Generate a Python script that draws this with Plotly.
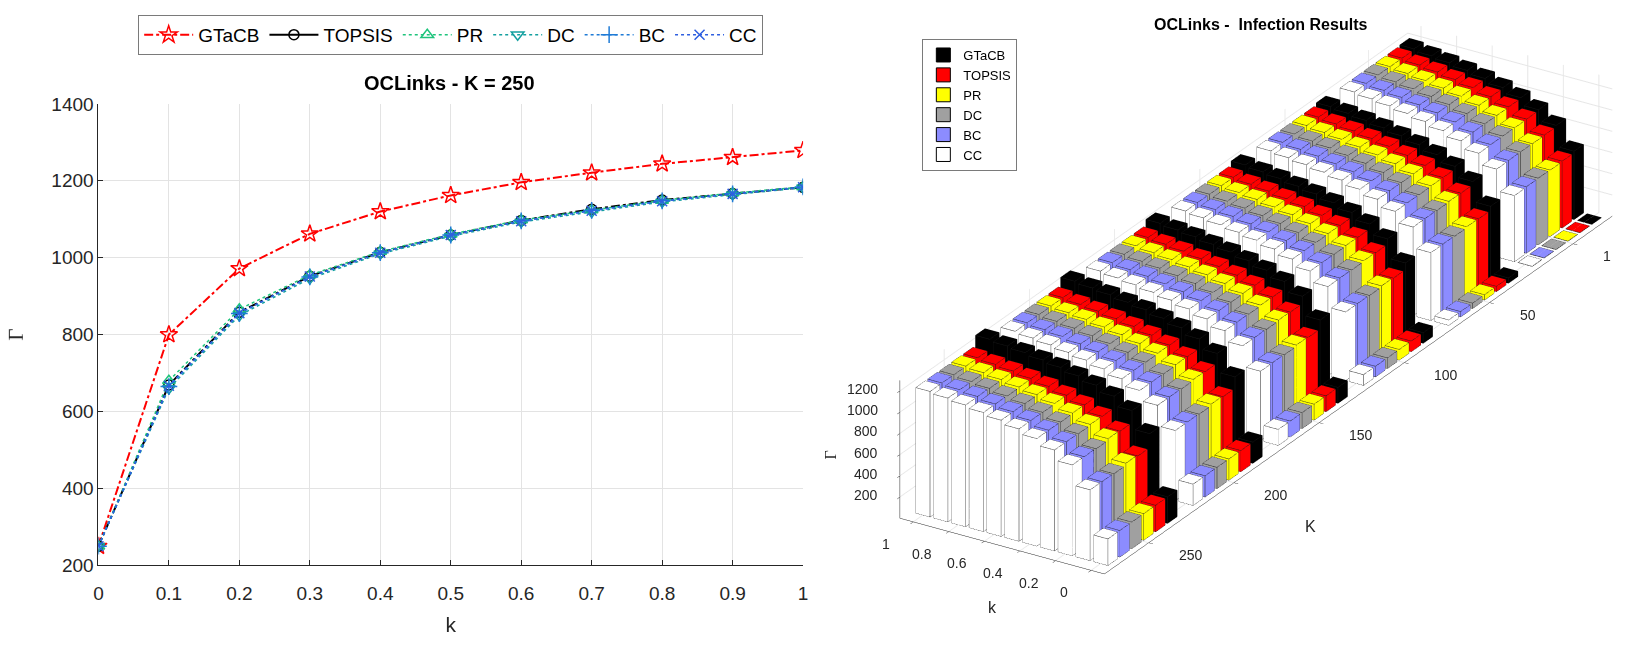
import plotly.graph_objects as go

# ---------------- data ----------------
k_vals = [0, 0.1, 0.2, 0.3, 0.4, 0.5, 0.6, 0.7, 0.8, 0.9, 1.0]
k_ticktext = ["0", "0.1", "0.2", "0.3", "0.4", "0.5", "0.6", "0.7", "0.8", "0.9", "1"]
methods = ["GTaCB", "TOPSIS", "PR", "DC", "BC", "CC"]

# Left chart: K = 250
gtacb_250 = [250, 800, 972, 1062, 1120, 1162, 1196, 1221, 1244, 1261, 1279]
topsis_250 = [250, 669, 858, 952, 1014, 1059, 1097, 1126, 1150, 1167, 1183]
pr_250 = [250, 680, 866, 955, 1016, 1061, 1098, 1124, 1149, 1168, 1184]
dc_250 = [250, 660, 850, 946, 1010, 1056, 1093, 1119, 1145, 1164, 1182]
bc_250 = [250, 665, 855, 950, 1013, 1059, 1096, 1123, 1148, 1166, 1184]
cc_250 = [250, 667, 856, 951, 1013, 1059, 1095, 1122, 1147, 1166, 1183]

# 3D chart: K groups, rows = GTaCB, TOPSIS, PR, DC, BC, CC
K_groups = [1, 50, 100, 150, 200, 250]
gamma_K1 = [
    [1, 645, 842, 944, 1012, 1062, 1102, 1132, 1158, 1178, 1198],
    [1, 630, 830, 935, 1005, 1055, 1095, 1125, 1150, 1170, 1190],
    [1, 625, 828, 932, 1003, 1053, 1093, 1123, 1149, 1169, 1189],
    [1, 628, 830, 934, 1004, 1054, 1094, 1124, 1150, 1170, 1190],
    [1, 626, 829, 933, 1004, 1054, 1094, 1124, 1149, 1169, 1189],
    [1, 622, 826, 930, 1002, 1052, 1092, 1122, 1148, 1168, 1188],
]
gamma_K50 = [
    [50, 680, 868, 965, 1030, 1078, 1116, 1145, 1170, 1190, 1208],
    [50, 641, 837, 939, 1007, 1056, 1095, 1124, 1150, 1169, 1188],
    [50, 645, 839, 940, 1007, 1056, 1094, 1123, 1149, 1168, 1188],
    [50, 636, 833, 936, 1004, 1053, 1093, 1122, 1148, 1167, 1187],
    [50, 640, 836, 938, 1006, 1055, 1094, 1123, 1149, 1168, 1188],
    [50, 639, 835, 937, 1005, 1054, 1094, 1123, 1148, 1168, 1187],
]
gamma_K100 = [
    [100, 712, 893, 988, 1050, 1096, 1133, 1160, 1186, 1205, 1224],
    [100, 648, 842, 942, 1008, 1057, 1095, 1123, 1148, 1167, 1187],
    [100, 654, 845, 944, 1010, 1058, 1096, 1123, 1149, 1168, 1187],
    [100, 643, 838, 939, 1006, 1054, 1093, 1121, 1146, 1166, 1186],
    [100, 647, 841, 941, 1008, 1057, 1095, 1123, 1148, 1167, 1187],
    [100, 646, 840, 941, 1007, 1056, 1094, 1122, 1147, 1167, 1186],
]
gamma_K150 = [
    [150, 740, 918, 1012, 1072, 1116, 1152, 1178, 1204, 1222, 1240],
    [150, 655, 848, 945, 1010, 1058, 1095, 1123, 1148, 1167, 1186],
    [150, 662, 852, 948, 1012, 1059, 1096, 1124, 1148, 1167, 1186],
    [150, 650, 844, 942, 1008, 1055, 1093, 1121, 1146, 1165, 1185],
    [150, 654, 847, 945, 1010, 1058, 1095, 1123, 1148, 1166, 1186],
    [150, 653, 847, 944, 1009, 1057, 1094, 1122, 1147, 1166, 1185],
]
gamma_K200 = [
    [200, 770, 945, 1036, 1096, 1138, 1174, 1198, 1224, 1242, 1260],
    [200, 662, 853, 948, 1012, 1059, 1096, 1124, 1148, 1166, 1185],
    [200, 671, 858, 951, 1014, 1060, 1097, 1124, 1149, 1167, 1185],
    [200, 656, 848, 944, 1009, 1056, 1093, 1121, 1146, 1165, 1184],
    [200, 661, 852, 947, 1012, 1058, 1095, 1123, 1148, 1166, 1185],
    [200, 660, 852, 947, 1011, 1058, 1095, 1122, 1147, 1166, 1184],
]
gamma_K250 = [gtacb_250, topsis_250, pr_250, dc_250, bc_250, cc_250]
gamma_groups = [gamma_K1, gamma_K50, gamma_K100, gamma_K150, gamma_K200, gamma_K250]

K_ticks = [1, 50, 100, 150, 200, 250]
gamma_ticks = [200, 400, 600, 800, 1000, 1200]
k3_ticks = [0, 0.2, 0.4, 0.6, 0.8, 1]
k3_ticktext = ["0", "0.2", "0.4", "0.6", "0.8", "1"]

# ---------------- styles ----------------
FONT = "Liberation Sans, Arial, Helvetica, sans-serif"
line_styles = [
    dict(name="GTaCB", y=gtacb_250, color="#ff0000", dash="dashdot", symbol="star-open", msize=13, width=2),
    dict(name="TOPSIS", y=topsis_250, color="#000000", dash="dashdot", symbol="circle-open", msize=10, width=2),
    dict(name="PR", y=pr_250, color="#1ec47c", dash="dot", symbol="triangle-up-open", msize=11, width=1.5),
    dict(name="DC", y=dc_250, color="#14a0a0", dash="dot", symbol="triangle-down-open", msize=11, width=1.5),
    dict(name="BC", y=bc_250, color="#1f7bd6", dash="dot", symbol="cross-thin-open", msize=12, width=1.5),
    dict(name="CC", y=cc_250, color="#2f5fe0", dash="dot", symbol="x-thin-open", msize=10, width=1.5),
]
bar_colors = {"GTaCB": "#000000", "TOPSIS": "#ff0000", "PR": "#ffff00",
              "DC": "#a0a0a0", "BC": "#8c8cff", "CC": "#ffffff"}
method_offset = {"GTaCB": -17.5, "TOPSIS": -10.5, "PR": -3.5, "DC": 3.5, "BC": 10.5, "CC": 17.5}
bar_wk = 0.08
bar_wK = 5.6
k_range3 = [-0.075, 1.075]
K_range3 = [-22, 276]
z_range3 = [0, 1300]

fig = go.Figure()

# ---------------- left line chart ----------------
for s in line_styles:
    fig.add_trace(go.Scatter(
        x=k_vals, y=s["y"], mode="lines+markers", name=s["name"],
        line=dict(color=s["color"], dash=s["dash"], width=s["width"]),
        marker=dict(symbol=s["symbol"], size=s["msize"], color=s["color"],
                    line=dict(color=s["color"], width=1.5)),
        showlegend=(s["name"] != "TOPSIS"), legendrank=methods.index(s["name"]) + 1,
        xaxis="x", yaxis="y", legend="legend"))
    if s["name"] == "TOPSIS":
        fig.add_trace(go.Scatter(
            x=[None], y=[None], mode="lines+markers", name="TOPSIS",
            line=dict(color="#000000", width=2),
            marker=dict(symbol="circle-open", size=10, color="#000000", line=dict(width=1.5)),
            legendrank=2, xaxis="x", yaxis="y", legend="legend"))

# ---------------- right 3D bar chart ----------------
edge_x, edge_y, edge_z = [], [], []
tris = [(0, 1, 2), (0, 2, 3), (4, 5, 6), (4, 6, 7),
        (0, 1, 5), (0, 5, 4), (1, 2, 6), (1, 6, 5),
        (2, 3, 7), (2, 7, 6), (3, 0, 4), (3, 4, 7)]
for mi, m in enumerate(methods):
    vx, vy, vz, fi, fj, fk = [], [], [], [], [], []
    for gi, K in enumerate(K_groups):
        vals = gamma_groups[gi][mi]
        yc = K + method_offset[m]
        for kk, val in zip(k_vals, vals):
            x0, x1 = kk - bar_wk / 2, kk + bar_wk / 2
            y0, y1 = yc - bar_wK / 2, yc + bar_wK / 2
            z0, z1 = 0, val
            b = len(vx)
            corners = [(x0, y0, z0), (x1, y0, z0), (x1, y1, z0), (x0, y1, z0),
                       (x0, y0, z1), (x1, y0, z1), (x1, y1, z1), (x0, y1, z1)]
            for c in corners:
                vx.append(c[0]); vy.append(c[1]); vz.append(c[2])
            for t in tris:
                fi.append(b + t[0]); fj.append(b + t[1]); fk.append(b + t[2])
            for ring in ([0, 1, 2, 3, 0], [4, 5, 6, 7, 4]):
                for r in ring:
                    edge_x.append(corners[r][0]); edge_y.append(corners[r][1]); edge_z.append(corners[r][2])
                edge_x.append(None); edge_y.append(None); edge_z.append(None)
            for a in range(4):
                for r in (a, a + 4):
                    edge_x.append(corners[r][0]); edge_y.append(corners[r][1]); edge_z.append(corners[r][2])
                edge_x.append(None); edge_y.append(None); edge_z.append(None)
    fig.add_trace(go.Mesh3d(
        x=vx, y=vy, z=vz, i=fi, j=fj, k=fk, color=bar_colors[m], flatshading=True,
        lighting=dict(ambient=1.0, diffuse=0.0, specular=0.0, roughness=1, fresnel=0),
        showlegend=False, hoverinfo="skip", scene="scene"))

fig.add_trace(go.Scatter3d(
    x=edge_x, y=edge_y, z=edge_z, mode="lines",
    line=dict(color="#1a1a1a", width=1), showlegend=False, hoverinfo="skip", scene="scene"))

# legend entries for the 3D bars
for m in methods:
    fig.add_trace(go.Scatter(
        x=[None], y=[None], mode="markers", name=m,
        marker=dict(symbol="square", size=14, color=bar_colors[m], line=dict(color="#000000", width=1)),
        xaxis="x", yaxis="y", legend="legend2"))

# 3D tick labels / titles as screen-aligned scene annotations
tick_font3 = dict(family=FONT, size=14, color="#262626")
scene_ann = []
for zt in gamma_ticks:
    scene_ann.append(dict(x=k_range3[1], y=K_range3[1], z=zt, text=str(zt), showarrow=False,
                          xanchor="right", yanchor="middle", xshift=-20, yshift=2, font=tick_font3))
for kt, kl in zip(k3_ticks, k3_ticktext):
    scene_ann.append(dict(x=kt, y=K_range3[1], z=0, text=kl, showarrow=False,
                          xanchor="center", yanchor="middle", xshift=-27, yshift=-22, font=tick_font3))
for Kt in K_ticks:
    scene_ann.append(dict(x=k_range3[0], y=Kt, z=0, text=str(Kt), showarrow=False,
                          xanchor="left", yanchor="middle", xshift=28, yshift=-12, font=tick_font3))
scene_ann.append(dict(x=0.5, y=K_range3[1], z=0, text="k", showarrow=False, xanchor="center",
                      yanchor="middle", xshift=-10, yshift=-61, font=dict(family=FONT, size=16, color="#262626")))
scene_ann.append(dict(x=k_range3[0], y=175, z=0, text="K", showarrow=False, xanchor="center",
                      yanchor="middle", xshift=34, yshift=-74, font=dict(family=FONT, size=16, color="#262626")))
scene_ann.append(dict(x=k_range3[1], y=K_range3[1], z=600, text="Γ", showarrow=False, xanchor="center",
                      yanchor="middle", xshift=-69, yshift=0, textangle=-90,
                      font=dict(family="Liberation Serif, serif", size=16, color="#262626")))

# ---------------- layout ----------------
axis_common = dict(showgrid=True, gridcolor="#e3e3e3", gridwidth=1, zeroline=False,
                   showline=True, linecolor="#262626", linewidth=1,
                   ticks="inside", ticklen=5, tickcolor="#262626",
                   tickfont=dict(family=FONT, size=19, color="#262626"))
ax3 = dict(showticklabels=False, showbackground=False, gridcolor="#e6e6e6", showline=True,
           linecolor="#262626", zeroline=False, ticks="outside", ticklen=5, tickcolor="#262626",
           showspikes=False, title=dict(text=""))
fig.update_layout(
    width=1628, height=649,
    margin=dict(l=0, r=0, t=0, b=0),
    paper_bgcolor="white", plot_bgcolor="white",
    font=dict(family=FONT, color="#262626"),
    xaxis=dict(domain=[94 / 1628, 803 / 1628], range=[0, 1], tickvals=k_vals, ticktext=k_ticktext,
               ticklabelstandoff=11,
               title=dict(text="k", font=dict(size=21, family=FONT), standoff=14), **axis_common),
    yaxis=dict(domain=[1 - 574 / 649, 1 - 97 / 649], range=[200, 1400],
               tickvals=[200, 400, 600, 800, 1000, 1200, 1400],
               title=dict(text="Γ", font=dict(size=21, family="Liberation Serif, serif"), standoff=22),
               **axis_common),
    legend=dict(x=134 / 1628, y=1 - 5 / 649, xanchor="left", yanchor="top", orientation="h",
                bordercolor="#7a7a7a", borderwidth=1, bgcolor="white",
                font=dict(family=FONT, size=19, color="#000000"), itemwidth=49,
                traceorder="normal"),
    legend2=dict(x=923 / 1628, y=1 - 30 / 649, xanchor="left", yanchor="top", orientation="v",
                 bordercolor="#7a7a7a", borderwidth=1, bgcolor="white", tracegroupgap=0,
                 font=dict(family=FONT, size=13, color="#000000"), itemwidth=30),
    scene=dict(
        domain=dict(x=[0.5, 1.0], y=[0.0, 1.0]),
        xaxis=dict(range=k_range3, tickvals=k3_ticks, **ax3),
        yaxis=dict(range=K_range3, tickvals=K_ticks, **ax3),
        zaxis=dict(range=z_range3, tickvals=gamma_ticks, **ax3),
        aspectmode="manual", aspectratio=dict(x=0.767, y=3.062, z=0.4885),
        camera=dict(eye=dict(x=-1.342, y=2.384, z=1.2415), up=dict(x=0, y=0, z=1),
                    center=dict(x=0.0826, y=0.0937, z=-0.0737), projection=dict(type="orthographic")),
        annotations=scene_ann,
    ),
    annotations=[
        dict(text="<b>OCLinks - K = 250</b>", x=447 / 1628, y=1 - 75 / 649, xref="paper", yref="paper",
             showarrow=False, font=dict(family=FONT, size=20, color="#000000"), xanchor="center", yanchor="middle"),
        dict(text="<b>OCLinks -  Infection Results</b>", x=1263 / 1628, y=1 - 15 / 649, xref="paper", yref="paper",
             showarrow=False, font=dict(family=FONT, size=16, color="#000000"), xanchor="center", yanchor="middle"),
    ],
)

fig.write_html("out.html", config={"displayModeBar": False},
               post_script="document.body.style.margin='0px';document.body.style.overflow='hidden';")
